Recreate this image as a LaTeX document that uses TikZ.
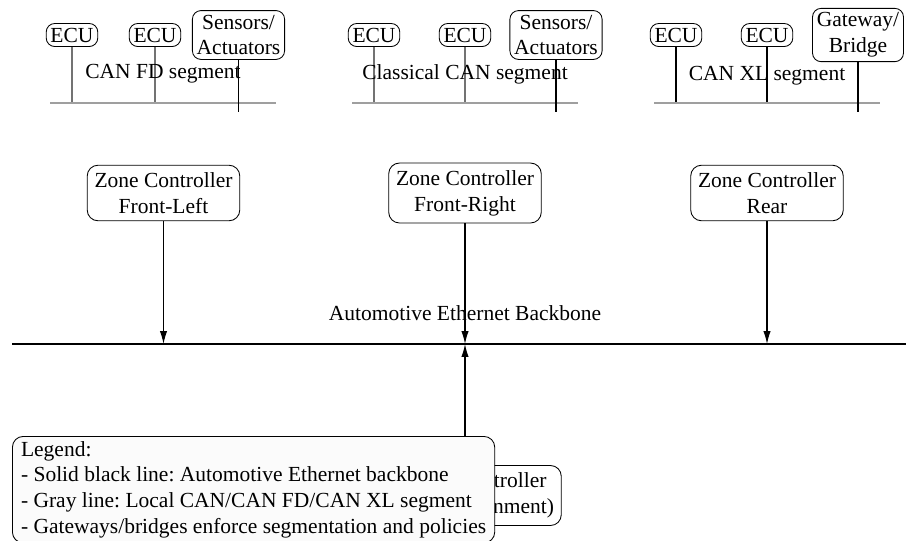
\documentclass[tikz,border=0pt]{standalone}
\usepackage{fontspec}
\setmainfont{Liberation Serif}
\usetikzlibrary{arrows.meta}
\frenchspacing
\begin{document}
\begin{tikzpicture}[x=0.4651pt,y=-0.4651pt,
  smallbox/.style={draw,rounded corners=4pt,inner sep=2pt,align=center},
  zonebox/.style={draw,rounded corners=5pt,inner sep=3.4pt,align=center},
  seglabel/.style={inner sep=1pt},
  canline/.style={gray!75,line width=1pt},
  tapline/.style={gray!90!black,line width=0.5pt},
  blackline/.style={black,line width=0.5pt},
  backbone/.style={black,line width=1.1pt},
  arr/.style={-{Latex[length=6pt,width=3.4pt]},line width=0.5pt},
  legendbox/.style={draw,rounded corners=5pt,fill=gray!3,align=left,inner xsep=4pt,inner ysep=2.2pt}]
\useasboundingbox (0,0) rectangle (906,540);

% ---- segment 1: CAN FD
\node[smallbox] (e11) at (72,35) {ECU};
\node[smallbox] (e12) at (155,35) {ECU};
\node[smallbox] (s1) at (238.5,35) {Sensors/\\Actuators};
\coordinate (g1a) at (50,103);
\coordinate (g1b) at (276,103);
\coordinate (t1) at (238.5,112);
\draw[tapline] (e11.south) -- (e11.south |- g1a);
\draw[tapline] (e12.south) -- (e12.south |- g1a);
\draw[canline] (g1a) -- (g1b);
\draw[blackline] (s1.south) -- (s1.south |- t1);
\node[seglabel] (l1) at (163,74) {CAN FD segment};

% ---- segment 2: Classical CAN
\node[smallbox] (e21) at (374,35) {ECU};
\node[smallbox] (e22) at (465,35) {ECU};
\node[smallbox] (s2) at (556,35) {Sensors/\\Actuators};
\coordinate (g2a) at (352,103);
\coordinate (g2b) at (578,103);
\coordinate (t2) at (556,112);
\draw[tapline] (e21.south) -- (e21.south |- g2a);
\draw[tapline] (e22.south) -- (e22.south |- g2a);
\draw[canline] (g2a) -- (g2b);
\draw[blackline] (s2.south) -- (s2.south |- t2);
\node[seglabel] (l2) at (465,74) {Classical CAN segment};

% ---- segment 3: CAN XL
\node[smallbox] (e31) at (676,35) {ECU};
\node[smallbox] (e32) at (767,35) {ECU};
\node[smallbox] (s3) at (858,35) {Gateway/\\Bridge};
\coordinate (g3a) at (654,103);
\coordinate (g3b) at (880,103);
\coordinate (t3) at (858,112);
\draw[blackline] (e31.south) -- (e31.south |- g3a);
\draw[blackline] (e32.south) -- (e32.south |- g3a);
\draw[canline] (g3a) -- (g3b);
\draw[blackline] (s3.south) -- (s3.south |- t3);
\node[seglabel] (l3) at (767,76) {CAN XL segment};

% ---- zone controllers
\node[zonebox] (z1) at (163.5,193) {Zone Controller\\Front-Left};
\node[zonebox] (z2) at (465,193) {Zone Controller\\Front-Right};
\node[zonebox] (z3) at (767,193) {Zone Controller\\Rear};

% ---- backbone
\coordinate (bbl) at (12,344);
\coordinate (bbr) at (906,344);
\draw[backbone] (bbl) -- (bbr);
\node (bbt) at (465,313) {Automotive Ethernet Backbone};
\draw[arr] (z1.south) -- (z1.south |- bbl);
\draw[arr] (z2.south) -- (z2.south |- bbl);
\draw[arr] (z3.south) -- (z3.south |- bbl);

% ---- partly hidden central node
\node[zonebox] (hid) at (465,495.5) {Domain Controller\\(Body/Infotainment)};
\draw[arr] (hid.north) -- (hid.north |- bbl);

% ---- legend
\node[legendbox,anchor=north west] (leg) at (12,436) {Legend:\\
- Solid black line: Automotive Ethernet backbone\\
- Gray line: Local CAN/CAN FD/CAN XL segment\\
- Gateways/bridges enforce segmentation and policies};
\end{tikzpicture}
\end{document}
